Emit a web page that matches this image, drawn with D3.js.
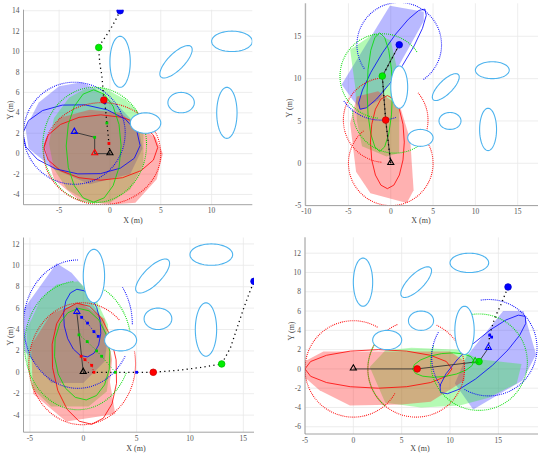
<!DOCTYPE html>
<html>
<head>
<meta charset="utf-8">
<script src="https://cdn.jsdelivr.net/npm/d3@7"></script>
<style>
  body { margin: 0; background: #fff; }
  svg { display: block; }
</style>
</head>
<body>
<svg id="chart" width="539" height="456"></svg>
<script>
// obstacles shared by all panels: [cx, cy, rx, ry, rotation deg]
const obstacles = [
  [1, 9, 1, 2.5, 0], [6.5, 9, 2.1, 0.8, 45], [12, 11, 2, 1, 0],
  [7, 5, 1.3, 1, 0], [11.5, 4, 1, 2.5, 0], [3.5, 3, 1.5, 1, 0]
];

// ---------- panel 1 ----------
const p1FillRed = [[-6.5,1],[-5,3.5],[-2,4.3],[1,4],[3,2.5],[4.5,1.6],[5.2,0],[4.6,-2.5],[2.5,-4.8],[0,-5],[-3,-4.6],[-5.5,-2.5]];
const p1FillGreen = [[-0.7,6.5],[1.5,5.3],[2.7,4.2],[3.3,2],[3.3,-1],[2,-3.5],[0,-4.8],[-2,-4.8],[-4.2,-3.5],[-5.5,-1.5],[-6,1],[-5.5,3.5],[-4,5.5],[-2.5,6.3]];
const p1FillBlue = [[-2.8,7],[-1.5,6.4],[1,4.5],[2.8,2.6],[3.2,0.5],[2,-2],[-2,-3],[-5.5,-1.5],[-8,0.5],[-8.3,2.5],[-7,5],[-5,6.6]];
const p1Solid = [[-0.9,0.6,5.6,3.2,0,"red"],[-2.8,1.4,5.8,3.4,-6,"blue"],[-1.6,0.75,2.7,5.5,0,"#00dd00"]];
const p1Dotted = [[-3.5,2,5,5,0,360,"blue"],[-1.5,0.85,5.1,5.65,0,360,"#00dd00"],[-0.75,0,5.75,5,0,360,"red"]];
const p1Traj = [[0,0],[-0.1,1],[-0.3,3],[-0.5,5],[-0.6,5.25],[-0.7,6.6],[-0.8,7.7],[-0.98,8.7],[-1.05,9.5],[-1.1,10.4],[-0.88,10.8],[-0.33,11.6],[0.16,12.4],[0.56,13.1],[1,14]];
const p1Links = [[-3.5,2.1],[-1.5,1.6],[-1.5,0],[0,0]];
const p1Tri = [[0,0,"black"],[-1.5,0,"red"],[-3.5,2.1,"blue"]];
const p1Small = [[-1.5,1.6,"#00cc00"],[-0.1,1.0,"red"],[-0.3,3.0,"#00cc00"],[-0.5,5.0,"blue"]];
const p1Goals = [[-0.6,5.25,"red"],[-1.1,10.4,"#00ee00"],[1,14,"blue"]];

// ---------- panel 2 ----------
const p2FillRed = [[-4,7.9],[-1.5,8.5],[1.1,6.7],[2.3,2.75],[2.7,-3.2],[1.9,-4.7],[-2.4,-3.55],[-4.1,-1],[-4.8,4.7]];
const p2FillGreen = [[-4.8,13.4],[-1.9,15.4],[0,14.5],[1,10],[1,1.2],[-0.5,0.8],[-3.4,2],[-4,5],[-4.2,9]];
const p2FillBlue = [[-5.8,9.3],[-0.1,18.6],[3.9,17.9],[3.9,16.8],[-1.3,7.5],[-3.5,6.3],[-4.5,7.5]];
const p2Solid = [[0.2,12.3,7.05,1.4,57,"blue"],[-1.3,8.4,1.5,7,0,"#00dd00"],[-0.4,2.5,2,5.5,0,"red"]];
const p2Dotted = [[0,0,5,5,130,400,"red"],[-0.6,5.1,5,5,95,265,"red"],[-0.6,5.1,5,5,-15,40,"red"],
  [-1,10.3,5,5,35,265,"#00dd00"],[0.5,6.2,5,5,180,305,"#00dd00"],[1,14,5,5,-55,215,"blue"],[-1.2,10.4,5.3,5.3,215,290,"blue"]];
const p2Traj = [[0,0],[-0.3,2.5],[-0.6,5.1],[-0.8,7.7],[-1,10.3],[0,12.1],[1,14]];
const p2Links = [[0,0],[-0.6,5.1],[-1,10.3],[1,14]];
const p2Tri = [[0,0,"black"]];
const p2Small = [];
const p2Goals = [[-0.6,5.1,"red"],[-1,10.3,"#00ee00"],[1,14,"blue"]];

// ---------- panel 3 ----------
const p3FillRed = [[-4.9,2.5],[-3,5.5],[-0.3,6.5],[2,5],[2.7,1.2],[2.5,-0.9],[3,-3.9],[-1.6,-4.6],[-4.7,-2]];
const p3FillGreen = [[-5.3,4],[-4,6.8],[-2.5,8.2],[-0.5,8.5],[1,7.2],[2.3,4.5],[2.6,1],[2.2,-1.8],[0.5,-3.2],[-3,-3.2],[-4.8,-1.5],[-5.3,1]];
const p3FillBlue = [[-5.5,6],[-2.5,10.2],[-1.1,9.3],[-0.15,8.2],[0.6,6.8],[1.5,5.5],[2.3,3.2],[2,1],[0,-1],[-3,-1],[-5.5,2],[-5.6,4]];
const p3Solid = [[-0.1,4.6,3.2,1.7,99,"blue"],[-0.1,1.7,4.3,2.6,95,"#00dd00"],[0.1,0.8,5.7,3.0,97,"red"]];
const p3Dotted = [[-0.5,4.5,5.1,6,90,330,"blue"],[-0.5,4.5,5.1,6,0,35,"blue"],
  [-0.5,2.5,5,6,95,335,"#00dd00"],[-0.5,2.5,5,6,10,60,"#00dd00"],[-0.1,0.8,5,5.7,46,372,"red"]];
const p3Traj = [[0,0],[1,0],[3,0],[5,0],[6.56,0],[9,0.2],[11,0.45],[12.97,0.78],[13.8,2.3],[14.4,4.1],[15,5.9],[15.5,7.25],[16,8.5]];
const p3Links = [[0,0],[-0.6,5.6]];
const p3Tri = [[0,0,"black"],[-0.6,5.6,"blue"]];
const p3RedPath = [[-0.2,1.5],[0.16,1.18],[0.79,0.65],[1,0]];
const p3GreenPath = [[-0.4,3.5],[0.37,2.87],[1.25,2.0],[1.72,1.5],[3,0]];
const p3BluePath = [[-0.6,5.6],[-0.15,5.14],[0.4,4.6],[1.0,3.8],[1.4,3.36]];
const p3Small = [[-0.2,1.5,"red"],[-0.4,3.5,"#00cc00"],[0.16,1.18,"red"],[0.79,0.65,"red"],[1,0,"red"],
  [0.37,2.87,"#00cc00"],[1.25,2.0,"#00cc00"],[1.72,1.5,"#00cc00"],[3,0,"#00cc00"],
  [-0.15,5.14,"blue"],[0.4,4.6,"blue"],[1.0,3.8,"blue"],[1.4,3.36,"blue"],[5,0,"blue"]];
const p3Goals = [[6.56,0,"red"],[12.97,0.78,"#00ee00"],[16,8.5,"blue"]];

// ---------- panel 4 ----------
const p4FillRed = [[-5,-0.9],[-5,0.8],[-3.1,1.8],[10,1.8],[11.5,0.8],[11.5,-1.2],[8,-3.4],[5,-3.7],[-0.35,-3.8],[-3.5,-2.2]];
const p4FillGreen = [[1.7,0.2],[3.3,1.9],[6,2.2],[11,2],[13,1],[17.4,0.5],[16.9,-1.5],[14,-3],[11,-3.8],[7,-4],[3.3,-3.5]];
const p4FillBlue = [[10.5,-1.5],[12.4,-4.2],[17.5,-1.2],[18.9,1.5],[17.6,6],[15.5,6],[11.7,1.3]];
const p4Solid = [[2.6,0,7.6,2.0,0,"red"],[9.3,0.4,3.2,1.2,8,"#00dd00"],[13.4,1.5,5.9,1.5,42,"blue"]];
const p4Dotted = [[0,0,5,5,60,330,"red"],[6.5,0,5,5,113,425,"red"],[6.5,0,5,5,150,230,"#00dd00"],
  [13,0.7,5,5,160,460,"#00dd00"],[14,2.2,5,5,-120,100,"blue"],[13.3,1.2,5.2,5.2,150,215,"blue"]];
const p4Traj = [[13.96,2.15],[14.1,3.5],[14.5,4.9],[14.9,5.9],[15.2,6.5],[16,8.5]];
const p4Links = [[0,0],[6.6,0],[13,0.76],[13.96,2.15]];
const p4Tri = [[0,0,"black"],[13.96,2.15,"blue"],[12.6,0.76,"#00cc00"]];
const p4Small = [[14.1,3.5,"blue"],[14.3,3.3,"blue"]];
const p4Goals = [[6.6,0,"red"],[13,0.76,"#00ee00"],[16,8.5,"blue"]];

const panels = [
  { box: [23.5, 252.3, 204.7, 9.7], xd: [-8.5, 14], yd: [-5, 14.1], xt: [-5, 0, 5, 10], yt: d3.range(-4, 15, 2),
    fills: [p1FillBlue, p1FillGreen, p1FillRed], solid: p1Solid, dotted: p1Dotted, traj: p1Traj, links: p1Links,
    tri: p1Tri, small: p1Small, goals: p1Goals, xl: [133, 223], yl: [10, 110] },
  { box: [305.3, 538, 205.6, 3.3], xd: [-10.1, 17.4], yd: [-5, 18.9], xt: [-10, -5, 0, 5, 10, 15], yt: [-5, 0, 5, 10, 15],
    fills: [p2FillBlue, p2FillGreen, p2FillRed], solid: p2Solid, dotted: p2Dotted, traj: p2Traj, links: p2Links,
    tri: p2Tri, small: p2Small, goals: p2Goals, xl: [421, 223], yl: [289, 108] },
  { box: [23.5, 254, 432.2, 237.5], xd: [-5.6, 16], yd: [-5.6, 12.6], xt: [-5, 0, 5, 10, 15], yt: d3.range(-4, 13, 2),
    fills: [p3FillBlue, p3FillGreen, p3FillRed], solid: p3Solid, dotted: p3Dotted, traj: p3Traj, links: p3Links,
    tri: p3Tri, small: p3Small, goals: p3Goals, xl: [136, 451], yl: [10, 336],
    paths: [[p3RedPath, "red"], [p3GreenPath, "#00cc00"], [p3BluePath, "blue"]] },
  { box: [305, 538, 434, 237.3], xd: [-5, 19.1], yd: [-6.75, 13.65], xt: [-5, 0, 5, 10, 15], yt: d3.range(-6, 13, 2),
    fills: [p4FillBlue, p4FillGreen, p4FillRed], solid: p4Solid, dotted: p4Dotted, traj: p4Traj, links: p4Links,
    tri: p4Tri, small: p4Small, goals: p4Goals, xl: [420, 451], yl: [291, 331] }
];

// blue, green, red region fills (drawn in that order)
const fillColors = ["rgba(60,60,255,0.36)", "rgba(40,240,40,0.35)", "rgba(255,40,40,0.36)"];

function ellipsePts(cx, cy, rx, ry, rot, a0, a1, n) {
  const r = rot * Math.PI / 180;
  return d3.range(n + 1).map(i => {
    const t = (a0 + (a1 - a0) * i / n) * Math.PI / 180;
    const ex = rx * Math.cos(t), ey = ry * Math.sin(t);
    return [cx + ex * Math.cos(r) - ey * Math.sin(r), cy + ex * Math.sin(r) + ey * Math.cos(r)];
  });
}

const svg = d3.select("#chart");
const font = "'Liberation Serif', 'Times New Roman', serif";

panels.forEach((p, k) => {
  const [left, right, bottom, top] = p.box;
  const x = d3.scaleLinear().domain(p.xd).range([left, right]);
  const y = d3.scaleLinear().domain(p.yd).range([bottom, top]);
  const line = d3.line().x(d => x(d[0])).y(d => y(d[1]));
  const g = svg.append("g");

  g.append("clipPath").attr("id", "clip" + k)
    .append("rect").attr("x", left).attr("y", top).attr("width", right - left).attr("height", bottom - top);

  // grid
  g.selectAll(".gx").data(p.xt).join("line")
    .attr("x1", d => x(d)).attr("x2", d => x(d)).attr("y1", top).attr("y2", bottom)
    .attr("stroke", "#e8e8e8").attr("stroke-width", 0.8);
  g.selectAll(".gy").data(p.yt).join("line").attr("class", "gy")
    .attr("x1", left).attr("x2", right).attr("y1", d => y(d)).attr("y2", d => y(d))
    .attr("stroke", "#e8e8e8").attr("stroke-width", 0.8);

  const c = g.append("g").attr("clip-path", `url(#clip${k})`);

  // regions
  c.selectAll(".fill").data(p.fills).join("path")
    .attr("d", d => line(d) + "Z")
    .attr("fill", (d, i) => fillColors[i]).attr("stroke", "none");

  // polygonal ellipses
  c.selectAll(".solid").data(p.solid).join("path")
    .attr("d", d => line(ellipsePts(d[0], d[1], d[2], d[3], d[4], 0, 360, 16)) + "Z")
    .attr("fill", "none").attr("stroke", d => d[5]).attr("stroke-width", 0.8);

  // dotted range arcs
  c.selectAll(".dot").data(p.dotted).join("path")
    .attr("d", d => line(ellipsePts(d[0], d[1], d[2], d[3], 0, d[4], d[5], 120)))
    .attr("fill", "none").attr("stroke", d => d[6]).attr("stroke-width", 1.1)
    .attr("stroke-dasharray", "0.9,1.1");

  // obstacles
  c.selectAll(".obs").data(obstacles).join("path")
    .attr("d", d => line(ellipsePts(d[0], d[1], d[2], d[3], d[4], 0, 360, 72)) + "Z")
    .attr("fill", "#fff").attr("stroke", "#4db3ee").attr("stroke-width", 1.1);

  // formation links
  c.append("path").attr("d", line(p.links))
    .attr("fill", "none").attr("stroke", "#333").attr("stroke-width", 0.9);

  // trajectory
  c.append("path").attr("d", line(p.traj))
    .attr("fill", "none").attr("stroke", "#000").attr("stroke-width", 1.3)
    .attr("stroke-dasharray", "1.2,3.3");

  (p.paths || []).forEach(([pts, col]) => {
    c.append("path").attr("d", line(pts))
      .attr("fill", "none").attr("stroke", col).attr("stroke-width", 1)
      .attr("stroke-dasharray", "1,2");
  });

  c.selectAll(".sm").data(p.small).join("rect")
    .attr("x", d => x(d[0]) - 1.4).attr("y", d => y(d[1]) - 1.4)
    .attr("width", 2.8).attr("height", 2.8).attr("fill", d => d[2]);

  c.selectAll(".goal").data(p.goals).join("circle")
    .attr("cx", d => x(d[0])).attr("cy", d => y(d[1])).attr("r", 3.3)
    .attr("fill", d => d[2]).attr("stroke", d => d3.color(d[2]).darker(0.6)).attr("stroke-width", 0.8);

  c.selectAll(".tri").data(p.tri).join("path")
    .attr("transform", d => `translate(${x(d[0])},${y(d[1]) - 0.6})`)
    .attr("d", d3.symbol(d3.symbolTriangle).size(16))
    .attr("fill", "none").attr("stroke", d => d[2]).attr("stroke-width", 1.1);

  // axes
  g.append("line").attr("x1", left).attr("x2", left).attr("y1", top).attr("y2", bottom)
    .attr("stroke", "#8a8a8a").attr("stroke-width", 0.8);
  g.append("line").attr("x1", left).attr("x2", right).attr("y1", bottom).attr("y2", bottom)
    .attr("stroke", "#8a8a8a").attr("stroke-width", 0.8);

  g.selectAll(".xt").data(p.xt).join("text")
    .attr("x", d => x(d)).attr("y", bottom + 8.5).attr("text-anchor", "middle")
    .attr("font-family", font).attr("font-size", 7.5).attr("fill", "#555").text(d => d);
  g.selectAll(".yt").data(p.yt).join("text")
    .attr("x", left - 4).attr("y", d => y(d) + 2.6).attr("text-anchor", "end")
    .attr("font-family", font).attr("font-size", 7.5).attr("fill", "#555").text(d => d);

  g.append("text").attr("x", p.xl[0]).attr("y", p.xl[1]).attr("text-anchor", "middle")
    .attr("font-family", font).attr("font-size", 8).attr("fill", "#444").text("X (m)");
  g.append("text").attr("transform", `translate(${p.yl[0]},${p.yl[1]}) rotate(-90)`)
    .attr("text-anchor", "middle").attr("dy", "0.35em")
    .attr("font-family", font).attr("font-size", 8).attr("fill", "#444").text("Y (m)");
});
</script>
</body>
</html>
